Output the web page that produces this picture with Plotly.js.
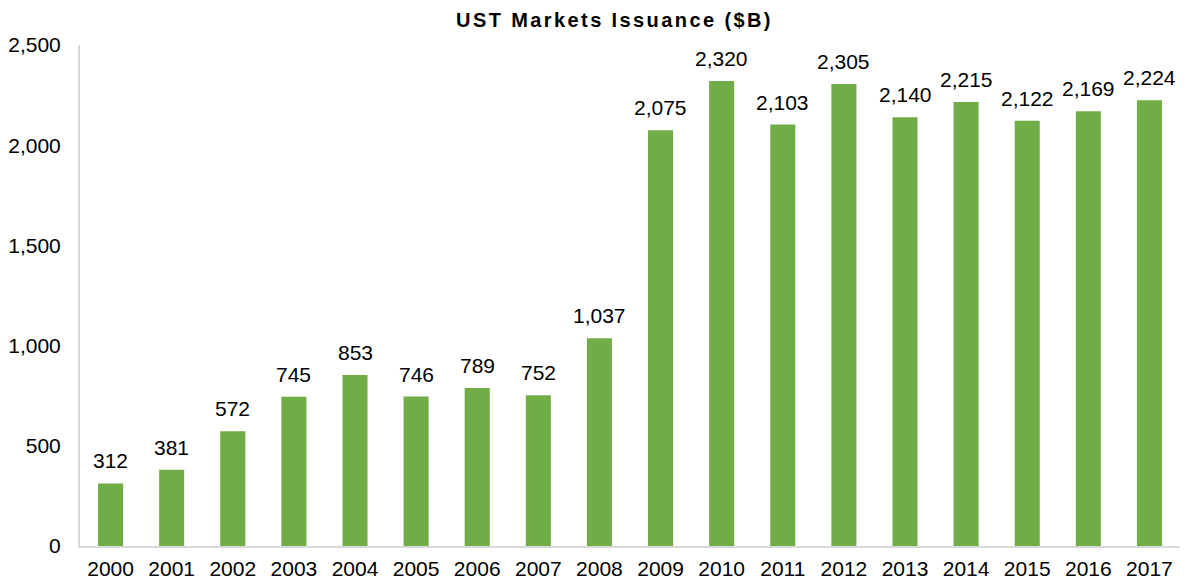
<!DOCTYPE html>
<html><head><meta charset="utf-8">
<script src="https://cdn.plot.ly/plotly-3.0.1.min.js"></script>
<style>body{margin:0;padding:0;background:#fff}#chart{width:1184px;height:583px}
.gtitle{letter-spacing:2.4px}</style>
</head><body><div id="chart"></div>
<script>
const years = ["2000","2001","2002","2003","2004","2005","2006","2007","2008","2009","2010","2011","2012","2013","2014","2015","2016","2017"];
const issuance = [312,381,572,745,853,746,789,752,1037,2075,2320,2103,2305,2140,2215,2122,2169,2224];
const yTicks = [0,500,1000,1500,2000,2500];

const fontFam = "Liberation Sans, Arial, sans-serif";
const labelAnns = years.map((yr, i) => ({
  x: i, y: issuance[i], xref: 'x', yref: 'y',
  text: issuance[i].toLocaleString('en-US'),
  showarrow: false, yanchor: 'bottom', xanchor: 'center', yshift: 9,
  font: {family: fontFam, size: 21, color: '#000'}
}));

Plotly.newPlot('chart', [{
  type: 'bar',
  x: years,
  y: issuance,
  marker: {color: '#70AD47'},
  width: 0.41,
  hoverinfo: 'x+y'
}], {
  width: 1184, height: 583,
  margin: {l: 80, r: 4, t: 45, b: 37},
  paper_bgcolor: '#fff', plot_bgcolor: '#fff',
  title: {text: '<b>UST Markets Issuance ($B)</b>', x: 0.519, xanchor: 'center', y: 0.966, yanchor: 'middle',
          font: {family: fontFam, size: 20, color: '#000'}},
  xaxis: {type: 'category', range: [-0.5, years.length - 0.5], showline: true, linecolor: '#d9d9d9', linewidth: 2, ticks: '',
          tickfont: {family: fontFam, size: 21, color: '#000'}, showgrid: false, zeroline: false,
          ticklabelstandoff: 3},
  yaxis: {range: [0, 2500], tickvals: yTicks, ticktext: yTicks.map(v => v.toLocaleString('en-US')),
          showline: true, linecolor: '#d9d9d9', linewidth: 2, ticks: '', showgrid: false, zeroline: false,
          tickfont: {family: fontFam, size: 21, color: '#000'}, ticklabelstandoff: 13},
  annotations: labelAnns,
  showlegend: false
}, {displayModeBar: false, staticPlot: true});
</script></body></html>
